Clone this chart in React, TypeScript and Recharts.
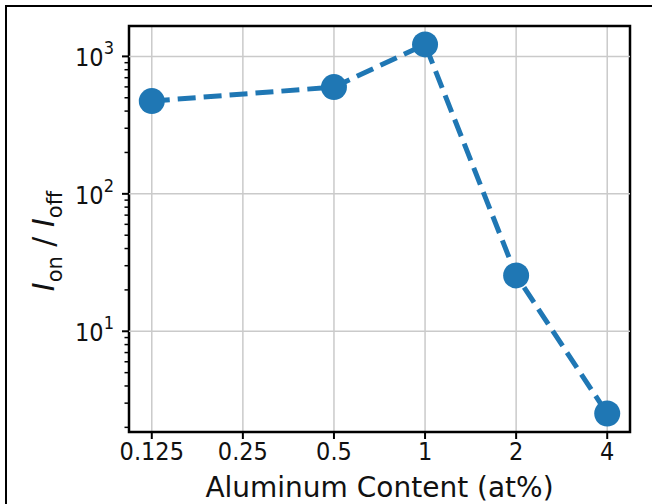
import React from 'react'
import {
  CartesianGrid,
  Line,
  LineChart,
  ReferenceArea,
  ReferenceLine,
  XAxis,
  YAxis,
} from 'recharts'

// Al content (at%) and the measured on/off current ratio
const aluminumContent = [0.125, 0.5, 1, 2, 4]
const onOffRatio = [473, 598, 1222, 25.5, 2.52]

const xTicks = [0.125, 0.25, 0.5, 1, 2, 4]
const xTickLabels = ['0.125', '0.25', '0.5', '1', '2', '4']
const yMajorTicks = [10, 100, 1000]
const yMinorTicks = [
  2, 3, 4, 5, 6, 7, 8, 9, 20, 30, 40, 50, 60, 70, 80, 90, 200, 300, 400, 500,
  600, 700, 800, 900,
]

const xDomain = [0.1051, 4.757]
const yDomain = [1.85, 1664]

const BLUE = '#1f77b4'
const TICK_FONT = "'DejaVu Sans Condensed', 'DejaVu Sans', sans-serif"
const LABEL_FONT = "'DejaVu Sans', sans-serif"

const data = aluminumContent.map((x, i) => ({ x, ratio: onOffRatio[i] }))

const XTick = (props: any) => {
  const { x, y, payload } = props
  const idx = xTicks.indexOf(payload.value)
  return (
    <text
      x={x}
      y={y + 19}
      textAnchor="middle"
      fontFamily={TICK_FONT}
      fontSize={25}
      fill="#111"
    >
      {xTickLabels[idx]}
    </text>
  )
}

const YTick = (props: any) => {
  const { x, y, payload } = props
  const axisX = x + 15
  const major = yMajorTicks.includes(payload.value)
  const exp = Math.round(Math.log10(payload.value))
  return (
    <g>
      <line
        x1={axisX - (major ? 7 : 4.5)}
        x2={axisX}
        y1={y}
        y2={y}
        stroke="#000"
        strokeWidth={major ? 2 : 1.5}
      />
      {major && (
        <text
          x={x}
          y={y + 10}
          textAnchor="end"
          fontFamily={TICK_FONT}
          fontSize={25}
          fill="#111"
        >
          <tspan>10</tspan>
          <tspan dy={-12} fontSize={18}>
            {exp}
          </tspan>
        </text>
      )}
    </g>
  )
}

const XLabel = (props: any) => {
  const { x, y, width } = props.viewBox
  return (
    <text
      x={x + width / 2}
      y={y + 65}
      textAnchor="middle"
      fontFamily={LABEL_FONT}
      fontSize={28}
      fill="#111"
    >
      Aluminum Content (at%)
    </text>
  )
}

const YLabel = () => {
  const cx = 54
  const cy = 241
  return (
    <text
      x={cx}
      y={cy}
      textAnchor="middle"
      transform={`rotate(-90, ${cx}, ${cy})`}
      fontFamily={LABEL_FONT}
      fontSize={30}
      fill="#111"
    >
      <tspan fontStyle="italic">I</tspan>
      <tspan dy={8} fontSize={21}>
        on
      </tspan>
      <tspan dy={-8}> / </tspan>
      <tspan fontStyle="italic">I</tspan>
      <tspan dy={8} fontSize={21}>
        off
      </tspan>
    </text>
  )
}

export default function App() {
  return (
    <div
      style={{
        position: 'fixed',
        left: 0,
        top: 0,
        width: 652,
        height: 504,
        overflow: 'hidden',
        background: '#fff',
      }}
    >
      <div
        style={{
          position: 'absolute',
          left: 5,
          top: 5,
          width: 700,
          height: 600,
          borderTop: '2px solid #000',
          borderLeft: '2px solid #000',
        }}
      />
      <div style={{ position: 'absolute', left: 0, top: 0 }}>
        <LineChart
          width={652}
          height={504}
          data={data}
          margin={{ top: 26, right: 22, bottom: 0, left: 0 }}
        >
          <CartesianGrid
            horizontal={false}
            stroke="#cacaca"
            strokeWidth={1.5}
          />
          {yMajorTicks.map((v) => (
            <ReferenceLine
              key={v}
              y={v}
              stroke="#cacaca"
              strokeWidth={1.5}
            />
          ))}
          <XAxis
            dataKey="x"
            type="number"
            scale="log"
            domain={xDomain}
            allowDataOverflow
            ticks={xTicks}
            interval={0}
            height={72}
            axisLine={false}
            stroke="#000"
            tickLine={{ stroke: '#000', strokeWidth: 2 }}
            tickSize={7}
            tick={<XTick />}
            label={{ content: <XLabel /> }}
          />
          <YAxis
            type="number"
            scale="log"
            domain={yDomain}
            allowDataOverflow
            ticks={[...yMinorTicks, ...yMajorTicks].sort((a, b) => a - b)}
            interval={0}
            width={129}
            axisLine={false}
            tickLine={false}
            tickSize={7}
            tickMargin={8}
            tick={<YTick />}
            label={{ content: <YLabel /> }}
          />
          <Line
            dataKey="ratio"
            stroke={BLUE}
            strokeWidth={5}
            strokeDasharray="18 8"
            dot={{ r: 13, fill: BLUE, stroke: 'none' }}
            activeDot={false}
            isAnimationActive={false}
          />
          <ReferenceArea
            x1={xDomain[0]}
            x2={xDomain[1]}
            y1={yDomain[0]}
            y2={yDomain[1]}
            fill="none"
            stroke="#000"
            strokeWidth={2.5}
            ifOverflow="visible"
          />
        </LineChart>
      </div>
    </div>
  )
}
